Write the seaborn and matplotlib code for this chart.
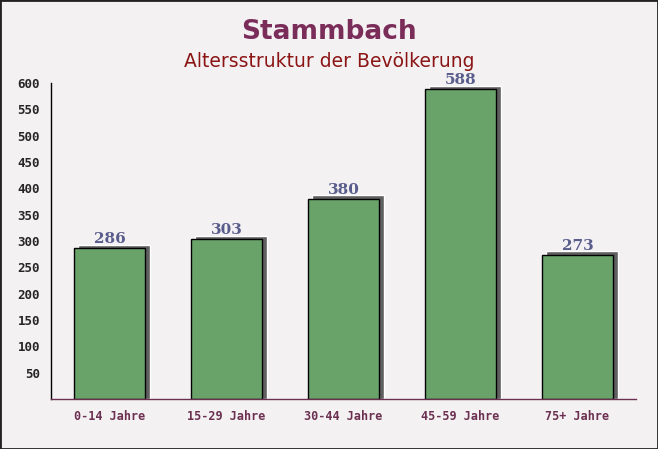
import numpy as np
import pandas as pd
import matplotlib.pyplot as plt
import seaborn as sns
from matplotlib.ticker import MultipleLocator

# data
categories = ['0-14 Jahre', '15-29 Jahre', '30-44 Jahre', '45-59 Jahre', '75+ Jahre']
values = [286, 303, 380, 588, 273]

df = pd.DataFrame({'Alter': categories, 'Anzahl': values})

BG = '#f4f1f3'
GREEN = '#6aa36a'
AXIS = '#6b3050'

sns.set_style('white')
fig = plt.figure(figsize=(6.58, 4.49), dpi=100, facecolor=BG)
ax = fig.add_axes([0.0775, 0.1114, 0.889, 0.704])
ax.set_facecolor(BG)

width = 0.61
# shadow bars behind (offset up and right)
for i, v in enumerate(values):
    ax.bar(i + 0.04, v + 7, width=width, color='#5f5f5f', zorder=1)

sns.barplot(data=df, x='Alter', y='Anzahl', color=GREEN, saturation=1,
            width=width, edgecolor='black', linewidth=1.0, ax=ax, zorder=2)

for i, v in enumerate(values):
    ax.text(i, v + 10, str(v), ha='center', va='baseline', fontsize=11,
            fontweight='bold', family='DejaVu Serif', color='#585d8c',
            zorder=3, clip_on=False)

ax.set_xlim(-0.5, 4.5)
ax.set_ylim(0, 600)
ax.yaxis.set_minor_locator(MultipleLocator(10))
ax.set_yticks(np.arange(50, 601, 50))
ax.set_xticks(np.arange(5))
ax.set_xticks(np.arange(0.5, 4.6, 1), minor=True)
ax.set_xlabel('')
ax.set_ylabel('')

for s in ['top', 'right']:
    ax.spines[s].set_visible(False)
ax.spines['bottom'].set_color(AXIS)
ax.spines['left'].set_color('black')
ax.spines['left'].set_linewidth(1.0)
ax.spines['bottom'].set_linewidth(1.0)

ax.tick_params(axis='y', which='major', direction='in', length=5, color='black',
               labelsize=9, pad=8)
ax.tick_params(axis='y', which='minor', direction='in', length=3, color='black')
ax.tick_params(axis='x', which='major', length=0, labelsize=8.5, labelcolor=AXIS, pad=8)
ax.tick_params(axis='x', which='minor', direction='in', length=5, color=AXIS)

for lab in ax.get_yticklabels() + ax.get_xticklabels():
    lab.set_family('DejaVu Sans Mono')
    lab.set_fontweight('bold')

fig.text(0.5, 0.928, 'Stammbach', ha='center', va='center', fontsize=19,
         fontweight='bold', color='#7b2d5a')
fig.text(0.5, 0.862, 'Altersstruktur der Bevölkerung', ha='center', va='center',
         fontsize=13.5, color='#8b1515')

# dark frame round the picture
fig.patches.append(plt.Rectangle((0, 0), 1, 1, transform=fig.transFigure,
                                 fill=False, edgecolor='#222222', linewidth=2))

fig.savefig('out.png', dpi=100, facecolor=BG)
